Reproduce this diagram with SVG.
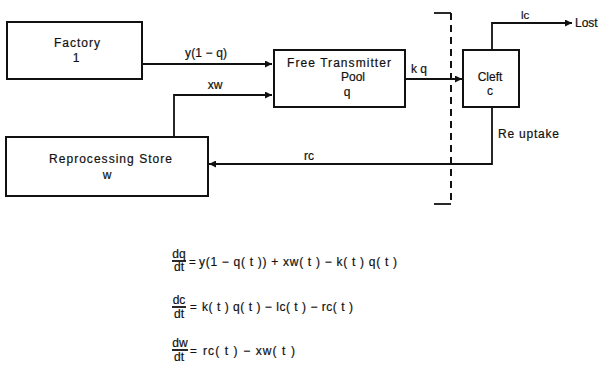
<svg xmlns="http://www.w3.org/2000/svg" width="603" height="365" viewBox="0 0 603 365">
<style>
.box{fill:#fff;stroke:#111;stroke-width:2}
.ln{fill:none;stroke:#111;stroke-width:1.8}
.t{font-family:"Liberation Sans",Arial,sans-serif;font-size:12px;fill:#111;stroke:#111;stroke-width:0.2}
.s{font-size:11.5px}
.c{text-anchor:middle}
.dash{fill:none;stroke:#111;stroke-width:2;stroke-dasharray:7,5}
</style>
<defs>
<marker id="ah" viewBox="0 0 10 10" refX="10" refY="5" markerWidth="8" markerHeight="7" markerUnits="userSpaceOnUse" orient="auto">
<path d="M0,0 L10,5 L0,10 z" fill="#111"/>
</marker>
</defs>
<rect width="603" height="365" fill="#fff"/>
<g id="connectors">
<path class="ln" d="M142,64 H272" marker-end="url(#ah)"/>
<path class="ln" d="M174,137 V95 H272" marker-end="url(#ah)"/>
<path class="ln" d="M405,79 H462" marker-end="url(#ah)"/>
<path class="ln" d="M492,50 V23 H572" marker-end="url(#ah)"/>
<path class="ln" d="M492,107 V164 H209" marker-end="url(#ah)"/>
<text class="t" x="185" y="57" textLength="42">y(1 − q)</text>
<text class="t c" x="215" y="89">xw</text>
<text class="t" x="411" y="73">k q</text>
<text class="t s" x="521" y="19">lc</text>
<text class="t" x="575" y="27">Lost</text>
<text class="t" x="498" y="138" textLength="61">Re uptake</text>
<text class="t c" x="309" y="160">rc</text>
</g>
<g id="membrane">
<path class="ln" d="M434,13 H451"/>
<path class="dash" d="M451,13 V204"/>
<path class="ln" d="M434,204 H451"/>
</g>
<g id="factory">
<rect class="box" x="7" y="22" width="135" height="57"/>
<text class="t" x="54" y="47" textLength="46">Factory</text>
<text class="t c" x="76" y="62">1</text>
</g>
<g id="pool">
<rect class="box" x="274" y="50" width="131" height="57"/>
<text class="t" x="287" y="67" textLength="104">Free Transmitter</text>
<text class="t c" x="353" y="81">Pool</text>
<text class="t c" x="347" y="96">q</text>
</g>
<g id="cleft">
<rect class="box" x="463" y="50" width="56" height="57"/>
<text class="t c" x="490" y="81">Cleft</text>
<text class="t c" x="490" y="95">c</text>
</g>
<g id="store">
<rect class="box" x="6" y="137" width="202" height="59"/>
<text class="t" x="49" y="163" textLength="123">Reprocessing Store</text>
<text class="t c" x="107" y="179">w</text>
</g>
<g id="equations">
<text class="t c" x="179" y="258">dq</text>
<path class="ln" d="M172,261 H186" stroke-width="1.2"/>
<text class="t c" x="179" y="271">dt</text>
<text class="t s" x="189" y="266">=</text>
<text class="t" x="199" y="266" textLength="198">y(1 − q( t )) + xw( t ) − k( t ) q( t )</text>
<text class="t c" x="179" y="304">dc</text>
<path class="ln" d="M172,307 H186" stroke-width="1.2"/>
<text class="t c" x="179" y="318">dt</text>
<text class="t s" x="190" y="311">=</text>
<text class="t" x="202" y="311" textLength="151">k( t ) q( t ) − lc( t ) − rc( t )</text>
<text class="t c" x="180" y="347">dw</text>
<path class="ln" d="M172,350 H188" stroke-width="1.2"/>
<text class="t c" x="179" y="361">dt</text>
<text class="t s" x="190" y="355">=</text>
<text class="t" x="203" y="355" textLength="92">rc( t ) − xw( t )</text>
</g>
</svg>
